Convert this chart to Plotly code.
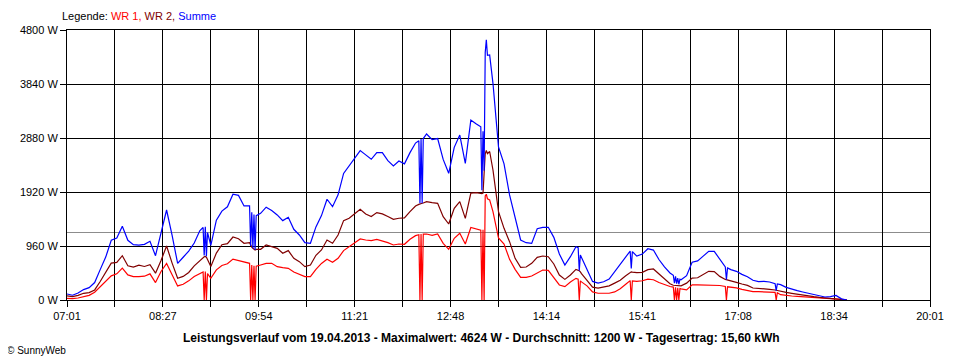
import plotly.graph_objects as go

# ---- data (19.04.2013) ----
times = [
    "07:01","07:06","07:11","07:16","07:21","07:26","07:31","07:36","07:41","07:46",
    "07:51","07:56","08:01","08:06","08:11","08:16","08:21","08:26","08:31","08:36",
    "08:41","08:46","08:51","08:56","09:01","09:04","09:05","09:06","09:07","09:08",
    "09:11","09:16","09:21","09:26","09:31","09:36","09:41","09:46","09:47","09:48",
    "09:49","09:50","09:51","09:52","09:56","10:01","10:06","10:11","10:16","10:21",
    "10:26","10:31","10:36","10:41","10:46","10:51","10:56","11:01","11:06","11:11",
    "11:16","11:21","11:26","11:31","11:36","11:41","11:46","11:51","11:56","12:01",
    "12:06","12:11","12:16","12:19","12:20","12:21","12:22","12:23","12:26","12:31",
    "12:36","12:41","12:46","12:51","12:56","13:01","13:06","13:11","13:15","13:16",
    "13:17","13:18","13:19","13:20","13:21","13:23","13:26","13:31","13:36","13:41",
    "13:46","13:51","13:56","14:01","14:06","14:11","14:16","14:21","14:26","14:31",
    "14:36","14:41","14:43","14:44","14:45","14:46","14:51","14:56","15:01","15:06",
    "15:11","15:16","15:21","15:26","15:30","15:31","15:32","15:36","15:41","15:46",
    "15:51","15:56","16:01","16:06","16:09","16:10","16:11","16:12","16:13","16:14",
    "16:15","16:16","16:21","16:26","16:31","16:36","16:41","16:46","16:51","16:56",
    "16:57","16:58","17:01","17:06","17:11","17:16","17:21","17:26","17:31","17:36",
    "17:41","17:42","17:43","17:46","17:51","17:56","18:01","18:06","18:11","18:16",
    "18:21","18:26","18:31","18:36","18:41","18:46",
]

wr1 = [
    30, 24, 36, 60, 83, 137, 238, 328, 429, 465,
    566, 447, 417, 417, 423, 465, 310, 507, 650, 447,
    250, 280, 340, 417, 465, 500, 0, 507, 0, 470,
    387, 536, 614, 644, 727, 700, 670, 652, 0, 620,
    0, 610, 0, 600, 623, 652, 652, 593, 575, 563,
    498, 463, 415, 415, 546, 650, 723, 670, 741, 878,
    949, 1008, 1085, 1067, 1056, 1079, 1056, 1020, 978, 996,
    990, 1079, 1144, 1160, 0, 1173, 0, 1170, 1173, 1150,
    1173, 1007, 901, 1096, 1185, 996, 1290, 1256, 1240, 0,
    1250, 0, 1850, 1880, 1800, 1780, 1570, 1102, 996, 723,
    545, 403, 403, 427, 486, 533, 527, 403, 267, 237,
    320, 385, 370, 0, 340, 322, 252, 144, 120, 120,
    120, 144, 200, 280, 345, 0, 340, 330, 342, 372,
    360, 312, 270, 240, 230, 0, 228, 0, 215, 0,
    205, 198, 180, 270, 270, 270, 270, 270, 258, 240,
    0, 235, 228, 216, 188, 172, 148, 148, 148, 148,
    136, 0, 130, 95, 77, 71, 65, 59, 59, 47,
    36, 30, 24, 18, 12, 0,
]

wr2 = [
    72, 60, 83, 119, 131, 179, 328, 489, 656, 668,
    787, 608, 584, 620, 596, 626, 477, 703, 960, 656,
    387, 420, 489, 608, 703, 760, 770, 775, 760, 720,
    596, 834, 983, 1001, 1120, 1090, 1008, 1020, 960, 940,
    920, 900, 890, 900, 901, 978, 949, 919, 830, 878,
    741, 682, 593, 623, 795, 890, 1067, 1008, 1156, 1411,
    1453, 1542, 1613, 1530, 1483, 1554, 1530, 1483, 1435, 1453,
    1460, 1570, 1671, 1700, 1710, 1719, 1720, 1725, 1748, 1730,
    1719, 1481, 1351, 1630, 1748, 1452, 1900, 1908, 1890, 1890,
    1900, 2300, 2600, 2660, 2600, 2640, 2311, 1570, 1274, 1037,
    741, 581, 587, 652, 759, 782, 770, 640, 444, 367,
    444, 545, 530, 520, 500, 468, 348, 228, 210, 228,
    252, 300, 350, 430, 500, 500, 495, 486, 492, 540,
    552, 468, 384, 288, 262, 260, 258, 256, 255, 254,
    253, 252, 300, 390, 396, 456, 510, 504, 420, 366,
    360, 350, 330, 312, 284, 260, 213, 207, 207, 190,
    178, 175, 170, 154, 136, 119, 101, 89, 71, 59,
    47, 36, 30, 24, 12, 0,
]

summe = [
    107, 85, 125, 185, 220, 310, 540, 763, 1061, 1103,
    1311, 1061, 983, 977, 989, 1043, 787, 1222, 1600, 1150,
    650, 760, 870, 1013, 1230, 1290, 790, 1300, 780, 1200,
    970, 1420, 1580, 1657, 1880, 1860, 1672, 1672, 960, 1560,
    920, 1520, 890, 1500, 1540, 1650, 1590, 1512, 1411, 1470,
    1257, 1156, 1020, 1008, 1300, 1500, 1791, 1660, 1870, 2250,
    2380, 2520, 2657, 2580, 2502, 2620, 2620, 2479, 2384, 2470,
    2420, 2620, 2790, 2830, 1719, 2860, 1720, 2870, 2951, 2850,
    2870, 2500, 2252, 2714, 2933, 2430, 3200, 3130, 3080, 1950,
    3000, 2300, 4400, 4624, 4350, 4356, 3852, 2720, 2420, 1867,
    1481, 1067, 1019, 1007, 1268, 1292, 1292, 1114, 818, 622,
    770, 948, 930, 520, 800, 755, 552, 330, 300, 324,
    372, 504, 620, 760, 870, 560, 860, 780, 816, 912,
    888, 720, 588, 480, 440, 300, 420, 290, 390, 280,
    370, 360, 432, 672, 696, 780, 864, 864, 732, 588,
    360, 570, 540, 510, 456, 415, 350, 326, 332, 320,
    290, 166, 285, 273, 225, 190, 166, 142, 119, 95,
    77, 53, 59, 80, 20, 0,
]

average_w = 1200
x_tick_labels = ["07:01", "08:27", "09:54", "11:21", "12:48",
                 "14:14", "15:41", "17:08", "18:34", "20:01"]
y_tick_values = [0, 960, 1920, 2880, 3840, 4800]
y_tick_labels = ["0 W", "960 W", "1920 W", "2880 W", "3840 W", "4800 W"]

title_text = ("Leistungsverlauf vom 19.04.2013 - Maximalwert: 4624 W - "
              "Durchschnitt: 1200 W - Tagesertrag: 15,60 kWh")


def to_min(s):
    h, m = s.split(":")
    return int(h) * 60 + int(m)


x = [to_min(t) for t in times]
x0 = to_min(x_tick_labels[0])
x1 = to_min(x_tick_labels[-1])
major_step = (x1 - x0) / (len(x_tick_labels) - 1)
tick_vals = [x0 + i * major_step for i in range(len(x_tick_labels))]

FONT = "Liberation Sans, Arial, sans-serif"

# the page body has an 8px margin, so the figure is placed at (8, 8)
OFF = 8
PL, PT, PW, PH = 60 - OFF, 30 - OFF, 870, 270
FW, FH = 960 - OFF, 360 - OFF

fig = go.Figure()
for name, vals, col in [("WR 1", wr1, "#ff0000"),
                        ("WR 2", wr2, "#800000"),
                        ("Summe", summe, "#0000ff")]:
    fig.add_trace(go.Scatter(x=x, y=vals, mode="lines", name=name,
                             line=dict(color=col, width=1.2),
                             hoverinfo="skip"))

fig.add_shape(type="line", xref="paper", x0=0, x1=1, yref="y",
              y0=average_w, y1=average_w, line=dict(color="#8c8c8c", width=1),
              layer="below")

axis_common = dict(
    showline=True, mirror=True, linecolor="black", linewidth=1,
    showgrid=True, gridcolor="black", gridwidth=1, zeroline=False,
    ticks="outside", ticklen=6, tickcolor="black", tickwidth=1,
    tickfont=dict(family=FONT, size=11, color="black"),
)

fig.update_xaxes(
    range=[x0, x1], tickmode="array", tickvals=tick_vals, ticktext=x_tick_labels,
    minor=dict(tick0=x0, dtick=major_step / 2, showgrid=True, gridcolor="black",
               gridwidth=1, ticks="outside", ticklen=6, tickcolor="black"),
    **axis_common,
)
fig.update_yaxes(
    range=[0, 4800], tickmode="array", tickvals=y_tick_values,
    ticktext=y_tick_labels, **axis_common,
)


def px_x(px):
    return (px - 60) / PW


def px_y(py):
    return (300 - py) / PH


fig.add_annotation(
    xref="paper", yref="paper", x=px_x(53), y=px_y(16), xanchor="left",
    yanchor="middle", showarrow=False,
    text=('Legende: <span style="color:#ff0000">WR 1,</span> '
          '<span style="color:#800000">WR 2,</span> '
          '<span style="color:#0000ff">Summe</span>'),
    font=dict(family=FONT, size=11, color="black"),
)
fig.add_annotation(
    xref="paper", yref="paper", x=px_x(478), y=px_y(338),
    xanchor="center", yanchor="middle", showarrow=False,
    text="<b>" + title_text + "</b>",
    font=dict(family=FONT, size=12, color="black"),
)
fig.add_annotation(
    xref="paper", yref="paper", x=px_x(-3), y=px_y(350),
    xanchor="left", yanchor="middle", showarrow=False,
    text="© SunnyWeb", font=dict(family=FONT, size=10, color="black"),
)

fig.update_layout(
    width=FW, height=FH, showlegend=False,
    margin=dict(l=PL, r=FW - PL - PW, t=PT, b=FH - PT - PH, pad=0),
    paper_bgcolor="white", plot_bgcolor="white",
    font=dict(family=FONT, size=11, color="black"),
)

fig.write_html("out.html")
